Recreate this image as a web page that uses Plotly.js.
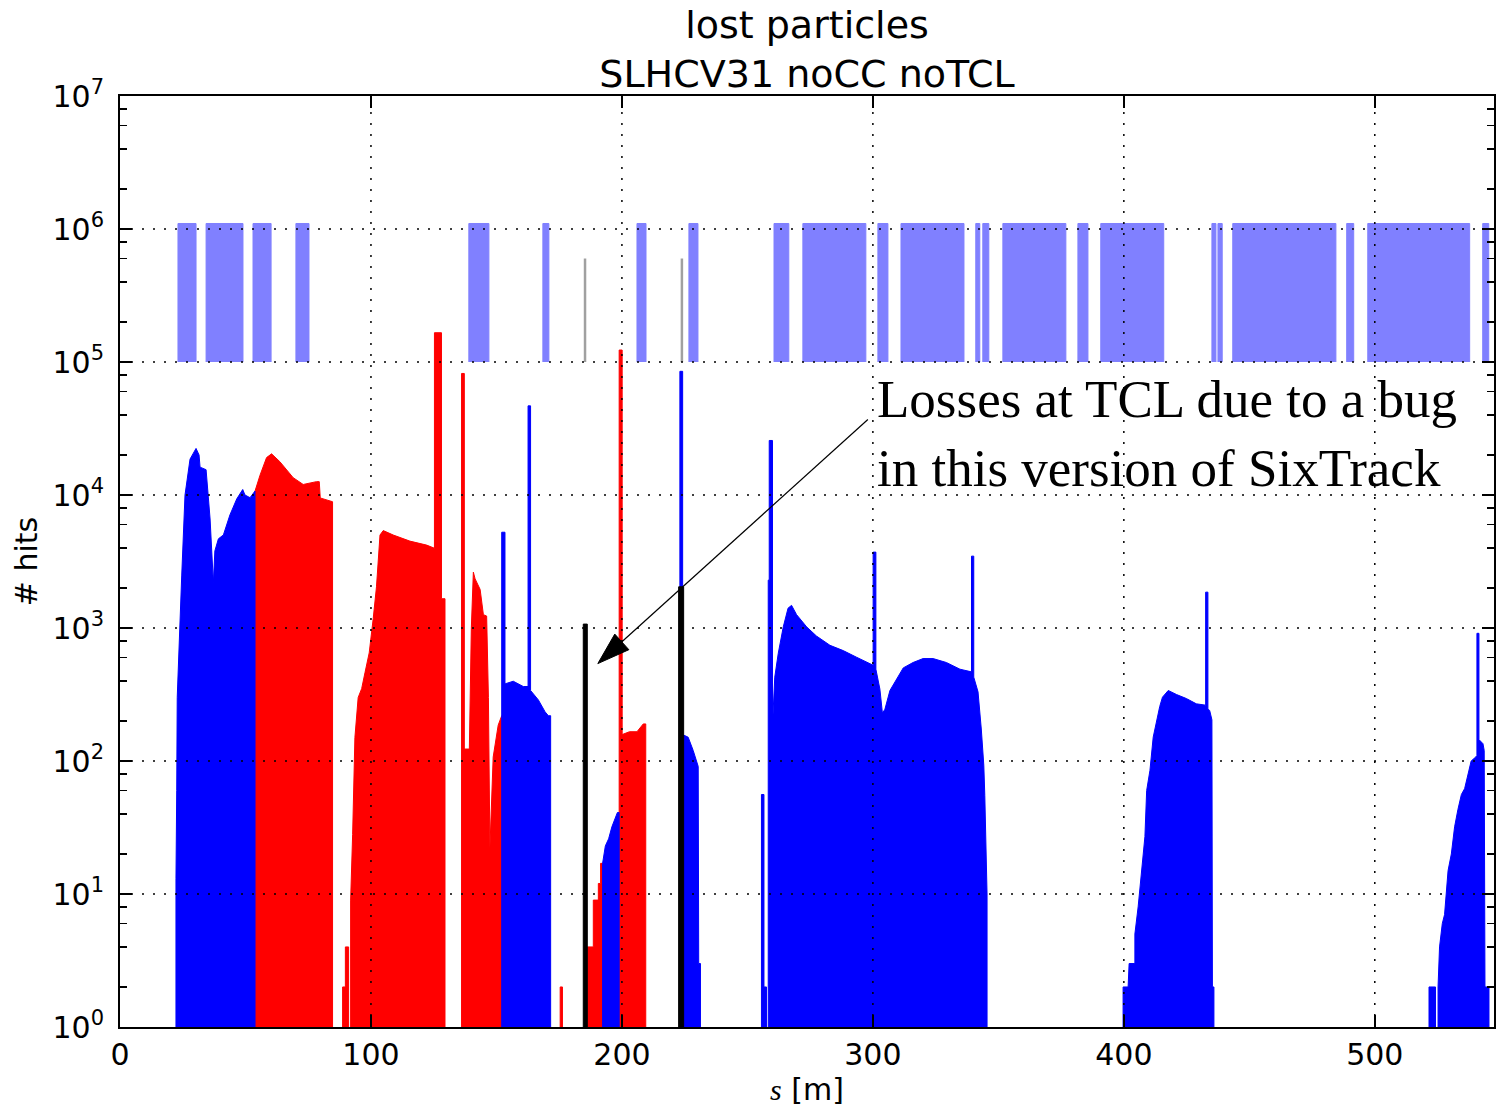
<!DOCTYPE html>
<html><head><meta charset="utf-8">
<script src="https://cdn.plot.ly/plotly-3.0.1.min.js"></script>
<style>html,body{margin:0;padding:0;background:#fff}#chart{width:1496px;height:1111px}</style>
</head><body><div id="chart"></div>
<script>
// ---------------- data ----------------
const xTickVals = [0, 100, 200, 300, 400, 500];
const yTickVals = [1, 10, 100, 1e3, 1e4, 1e5, 1e6, 1e7];
const yTickText = ['10<sup>0</sup>','10<sup>1</sup>','10<sup>2</sup>','10<sup>3</sup>','10<sup>4</sup>','10<sup>5</sup>','10<sup>6</sup>','10<sup>7</sup>'];

// aperture markers (light blue boxes), s [m]
const apertureStart = [23.1, 34.3, 53.0, 70.1, 139.0, 168.5, 206.0, 226.7, 260.6, 272.1, 302.0, 311.2, 341.0, 343.8, 351.8, 381.7, 390.8, 435.1, 437.5, 443.4, 488.8, 497.2, 543.0];
const apertureEnd   = [30.3, 49.0, 60.2, 75.3, 147.0, 170.9, 209.6, 230.3, 266.5, 297.2, 306.0, 336.3, 342.6, 346.2, 376.9, 385.7, 415.9, 436.7, 439.2, 484.5, 491.6, 537.8, 545.4];
const apertureBottom = 1e5;
const apertureTop = 1.1e6;

// thin grey elements
const greyS = [185.3, 223.9];
const greyTop = [6.0e5, 6.0e5];

// red histogram outline: s [m] and hits
const redS = [
  [53.8, 55.8, 58.4, 60.4, 63.7, 69.0, 73.0, 78.3, 79.4, 79.8, 84.3, 84.7],
  [88.7, 89.8, 89.8, 91.1],
  [91.9, 92.7, 93.6, 94.9, 96.3, 97.6, 99.3, 100.9, 102.2, 103.6, 104.9, 108.9, 115.5, 122.2, 125.3, 125.3, 128.1, 128.1, 129.5],
  [136.1, 136.1, 137.2, 137.2, 139.2, 140.0, 140.8, 141.5, 143.5, 144.8, 146.1, 146.8, 147.4, 148.7, 150.7, 152.1, 152.7],
  [175.4, 176.3],
  [186.2, 188.6, 188.6, 190.6, 190.6, 191.5, 191.5, 192.3],
  [198.9, 198.9, 200.1, 200.1, 203.0, 206.0, 208.5, 209.5]
];
const redN = [
  [10700, 14100, 19100, 20400, 17800, 13500, 12000, 12600, 12600, 9500, 8900, 8900],
  [2, 2, 4, 4],
  [9, 28, 150, 300, 350, 460, 650, 1180, 2040, 5000, 5400, 5000, 4500, 4200, 3980, 166000, 166000, 1660, 1660],
  [48, 82000, 82000, 123, 123, 1000, 2630, 2340, 1950, 1260, 1230, 300, 22, 107, 186, 219, 219],
  [2, 2],
  [4, 4, 9, 9, 12, 12, 17, 17],
  [41, 123000, 123000, 158, 166, 166, 190, 190]
];

// blue histogram outline: s [m] and hits
const blueS = [
  [22.3, 22.6, 22.8, 24.6, 25.9, 27.9, 30.3, 31.5, 31.9, 34.3, 35.9, 37.2, 37.8, 39.2, 41.2, 43.8, 46.5, 48.9, 49.8, 51.8, 53.8],
  [152.1, 152.1, 153.4, 153.4, 156.7, 160.7, 162.6, 162.6, 163.6, 163.6, 166.7, 169.4, 170.7, 171.6],
  [192.3, 193.4, 194.7, 196.0, 197.2, 198.2, 198.9],
  [223.1, 224.2, 224.2, 226.4, 228.4, 230.4, 230.6, 231.3],
  [255.6, 256.6, 256.6, 257.6],
  [258.3, 258.7, 258.7, 260.0, 260.0, 260.9, 262.3, 264.3, 266.2, 267.6, 269.6, 273.6, 277.5, 282.9, 288.2, 293.5, 298.8, 300.1, 300.1, 301.2, 301.2, 302.8, 303.8, 304.8, 306.8, 309.4, 312.1, 316.0, 320.0, 324.0, 329.3, 334.7, 339.3, 339.3, 340.2, 340.2, 341.9, 343.2, 344.2, 344.6, 345.3, 345.5],
  [399.7, 401.7, 402.1, 404.4, 404.4, 405.7, 407.1, 408.4, 409.1, 410.4, 411.7, 413.0, 414.3, 415.4, 417.7, 421.0, 424.9, 428.9, 432.2, 432.6, 432.6, 433.5, 433.5, 434.2, 435.1, 435.3, 435.9],
  [521.6, 524.2],
  [525.2, 525.8, 526.9, 527.8, 529.2, 530.5, 531.8, 533.1, 534.5, 535.8, 537.1, 538.4, 540.2, 540.7, 540.7, 541.5, 541.5, 543.1, 543.6, 543.9, 545.5]
];
const blueN = [
  [13, 60, 300, 2500, 10000, 18600, 22400, 20000, 16200, 15500, 6600, 2190, 3800, 4680, 5010, 7080, 9330, 11000, 10000, 9550, 10700],
  [224, 5250, 5250, 380, 398, 363, 363, 46800, 46800, 339, 288, 234, 219, 219],
  [17, 23, 26, 32, 36, 41, 41],
  [85100, 85100, 158, 151, 120, 91, 3, 3],
  [56, 56, 2, 2],
  [2290, 2290, 25700, 25700, 186, 427, 646, 1020, 1410, 1480, 1260, 1020, 871, 741, 676, 603, 537, 525, 3720, 3720, 490, 347, 229, 245, 339, 407, 501, 550, 589, 589, 550, 490, 468, 3470, 3470, 427, 331, 174, 93, 55, 10, 10],
  [2, 2, 3, 3, 5, 8, 16, 27, 60, 85, 151, 204, 257, 302, 339, 316, 295, 269, 263, 263, 1860, 1860, 245, 240, 204, 2, 2],
  [2, 2],
  [2, 4, 6, 7, 15, 20, 32, 43, 56, 62, 79, 100, 107, 110, 912, 912, 145, 135, 120, 2, 2]
];

// black bars (TCL losses)
const blackS = [[184.6, 186.2], [222.6, 224.6]];
const blackN = [[1070, 1070], [2040, 2040]];

// annotation
const noteLines = ['Losses at TCL due to a bug', 'in this version of SixTrack'];
const noteAt = [301.0, 2.92e4];
const arrowTail = [298.0, 3.7e4];
const arrowTip = [190.4, 540];

// ---------------- build ----------------
const BASE = 1; // bottom of the log axis (10^0)
function polygons(S, N) {
  const x = [], y = [];
  S.forEach((s, i) => {
    x.push(s[0], ...s, s[s.length - 1], null);
    y.push(BASE, ...N[i], BASE, null);
  });
  return {x, y};
}
function boxes(a, b, lo, hi) {
  const x = [], y = [];
  a.forEach((s, i) => { x.push(s, s, b[i], b[i], null); y.push(lo, hi, hi, lo, null); });
  return {x, y};
}
function fillTrace(p, color, lw) {
  return {type: 'scatter', mode: 'lines', x: p.x, y: p.y, fill: 'toself', fillcolor: color,
          line: {color: color, width: lw}, hoverinfo: 'skip', connectgaps: false};
}

const ap = boxes(apertureStart, apertureEnd, apertureBottom, apertureTop);
const greyX = [], greyY = [];
greyS.forEach((s, i) => { greyX.push(s, s, null); greyY.push(apertureBottom, greyTop[i], null); });

const traces = [
  fillTrace(ap, '#8080ff', 1),
  {type: 'scatter', mode: 'lines', x: greyX, y: greyY, line: {color: '#a0a0a0', width: 2.5}, hoverinfo: 'skip'},
  fillTrace(polygons(redS, redN), '#ff0000', 1),
  fillTrace(polygons(blueS, blueN), '#0000ff', 1),
  fillTrace(polygons(blackS, blackN), '#000000', 1),
  {type: 'scatter', mode: 'lines+markers', x: [arrowTail[0], arrowTip[0]], y: [arrowTail[1], arrowTip[1]],
   line: {color: '#000', width: 1.2},
   marker: {symbol: ['circle', 'arrow'], size: [0, 34], color: '#000', opacity: 1, angleref: 'previous', line: {width: 1, color: '#000'}},
   hoverinfo: 'skip'}
];

// dotted grid drawn above the data, as in the reference
const shapes = [];
const gridDash = '2px,9px';
[100, 200, 300, 400, 500].forEach(v => shapes.push({type: 'line', layer: 'above', xref: 'x', yref: 'paper', x0: v, x1: v, y0: 0, y1: 1,
  line: {color: '#000', width: 1.5, dash: gridDash}}));
for (let k = 1; k <= 6; k++) shapes.push({type: 'line', layer: 'above', xref: 'paper', yref: 'paper', x0: 0, x1: 1, y0: k / 7, y1: k / 7,
  line: {color: '#000', width: 1.5, dash: gridDash}});

const minorVals = [];
for (let k = 0; k < 7; k++) [2, 4, 6, 8].forEach(m => minorVals.push(m * Math.pow(10, k)));

const layout = {
  width: 1496, height: 1111,
  margin: {l: 120, r: 2, t: 96, b: 84, pad: 0},
  paper_bgcolor: '#fff', plot_bgcolor: '#fff',
  showlegend: false,
  font: {family: 'DejaVu Sans', size: 30, color: '#000'},
  title: {text: 'lost particles<br>SLHCV31 noCC noTCL', font: {family: 'DejaVu Sans', size: 38, color: '#000'},
          x: 0.5, xref: 'paper', xanchor: 'center', y: 0.966, yref: 'container', yanchor: 'top'},
  xaxis: {
    range: [0, 547.5], tickmode: 'array', tickvals: xTickVals, ticktext: xTickVals.map(String),
    ticks: 'inside', ticklen: 12, tickwidth: 1.5, tickcolor: '#000',
    showline: true, linewidth: 2, linecolor: '#000', mirror: 'ticks',
    showgrid: false, zeroline: false, layer: 'above traces',
    tickfont: {size: 30}, automargin: false,
    title: {text: '<span style="font-family:\'Liberation Serif\'"><i>s</i></span> [m]', font: {size: 30}, standoff: 8}
  },
  yaxis: {
    type: 'log', range: [0, 7], tickmode: 'array', tickvals: yTickVals, ticktext: yTickText,
    ticks: 'inside', ticklen: 12, tickwidth: 1.5, tickcolor: '#000', ticklabelstandoff: 8,
    minor: {tickmode: 'array', tickvals: minorVals, ticks: 'inside', ticklen: 7, tickwidth: 1.5, tickcolor: '#000', showgrid: false},
    showline: true, linewidth: 2, linecolor: '#000', mirror: 'ticks',
    showgrid: false, zeroline: false, layer: 'above traces',
    tickfont: {size: 30}, automargin: false,
    title: {text: '# hits', font: {size: 30}, standoff: 6}
  },
  shapes: shapes,
  annotations: [{
    xref: 'x', yref: 'y', x: noteAt[0], y: Math.log10(noteAt[1]), xanchor: 'left', yanchor: 'middle',
    text: noteLines.join('<br>'), align: 'left', showarrow: false,
    font: {family: 'Liberation Serif', size: 53, color: '#000'}
  }]
};

Plotly.newPlot('chart', traces, layout, {staticPlot: true, displayModeBar: false});
</script>
</body></html>
